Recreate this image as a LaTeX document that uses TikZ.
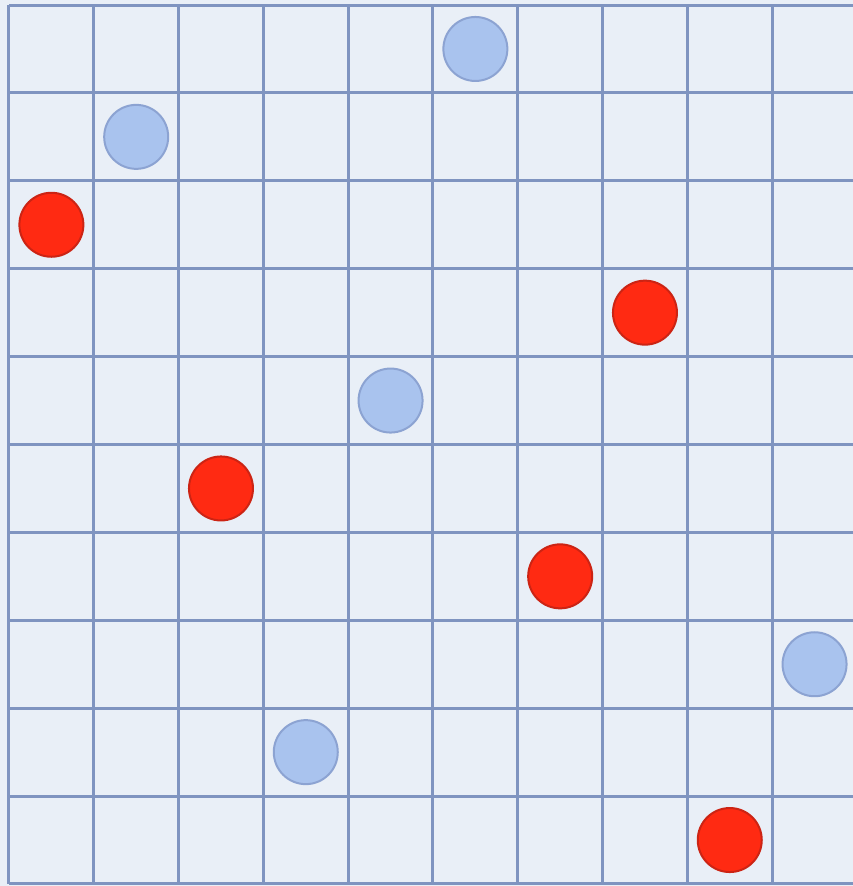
\documentclass[tikz,border=0pt]{standalone}
\usepackage{tikz}
\usetikzlibrary{positioning}

\definecolor{paper}{HTML}{E9EFF7}
\definecolor{gridblue}{HTML}{7F94C0}
\definecolor{bluefill}{HTML}{A9C3EE}
\definecolor{blueline}{HTML}{8CA3D2}
\definecolor{redfill}{HTML}{FF2A12}
\definecolor{redline}{HTML}{CC2414}

\begin{document}
\begin{tikzpicture}[
    x=1.696cm, y=-1.758cm,
    gridline/.style={draw=gridblue, line width=0.06cm},
    bluedot/.style={circle, draw=blueline, fill=bluefill, line width=0.04cm, minimum size=1.28cm, inner sep=0pt},
    reddot/.style={circle, draw=redline, fill=redfill, line width=0.04cm, minimum size=1.28cm, inner sep=0pt}
]

% Paper
\useasboundingbox (-0.106,-0.057) rectangle (9.953,10.023);
\fill[paper] (-0.106,-0.057) rectangle (9.953,10.023);
\clip (-0.106,-0.057) rectangle (9.953,10.023);

% Grid 10x10
\foreach \i in {0,...,10} {
    \draw[gridline] (\i,0) -- (\i,10);
    \draw[gridline] (0,\i) -- (10,\i);
}

% Blue pieces
\node[bluedot] (b1) at (5.5,0.5) {};
\node[bluedot] (b2) at (1.5,1.5) {};
\node[bluedot] (b3) at (4.5,4.5) {};
\node[bluedot] (b4) at (9.5,7.5) {};
\node[bluedot] (b5) at (3.5,8.5) {};

% Red pieces
\node[reddot] (r1) at (0.5,2.5) {};
\node[reddot] (r2) at (7.5,3.5) {};
\node[reddot] (r3) at (2.5,5.5) {};
\node[reddot] (r4) at (6.5,6.5) {};
\node[reddot] (r5) at (8.5,9.5) {};

\end{tikzpicture}
\end{document}
